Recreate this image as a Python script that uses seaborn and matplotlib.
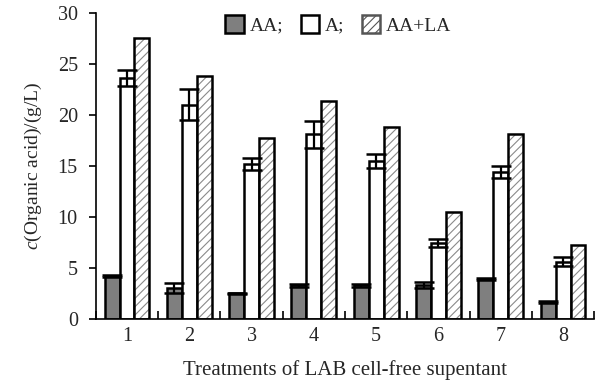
import matplotlib
matplotlib.use("Agg")
import matplotlib.pyplot as plt
import seaborn as sns
import pandas as pd
import numpy as np
from matplotlib.patches import Rectangle, Patch

categories = ["1", "2", "3", "4", "5", "6", "7", "8"]
series = ["AA;", "A;", "AA+LA"]
aa_vals = [4.2, 3.0, 2.5, 3.3, 3.3, 3.3, 3.9, 1.65]
aa_err = [0.1, 0.5, 0.05, 0.15, 0.15, 0.3, 0.1, 0.1]
a_vals = [23.6, 21.0, 15.2, 18.1, 15.5, 7.4, 14.4, 5.6]
a_err = [0.8, 1.5, 0.6, 1.3, 0.7, 0.4, 0.6, 0.45]
la_vals = [27.5, 23.8, 17.7, 21.4, 18.8, 10.5, 18.1, 7.2]

sns.set_theme(style="white")
plt.rcParams["font.family"] = ["Liberation Serif", "DejaVu Serif"]
plt.rcParams["mathtext.fontset"] = "custom"
plt.rcParams["mathtext.it"] = "Liberation Serif:italic"
plt.rcParams["mathtext.rm"] = "Liberation Serif"
plt.rcParams["hatch.linewidth"] = 0.8

df = pd.DataFrame({
    "cat": categories * 3,
    "series": [series[0]] * 8 + [series[1]] * 8 + [series[2]] * 8,
    "val": aa_vals + a_vals + la_vals,
})

fig = plt.figure(figsize=(5.99, 3.80), dpi=100)
ax = fig.add_axes([0.160, 0.161, 0.832, 0.805])

palette = {"AA;": "#7f7f7f", "A;": "#ffffff", "AA+LA": "#ffffff"}
sns.barplot(data=df, x="cat", y="val", hue="series", hue_order=series,
            palette=palette, errorbar=None, width=0.72, ax=ax,
            edgecolor="black", linewidth=1.8, saturation=1, legend=False)

containers = list(ax.containers)[:3]
errs = [aa_err, a_err, None]
for ci, cont in enumerate(containers):
    for bi, bar in enumerate(list(cont.patches)):
        x = bar.get_x(); w = bar.get_width(); h = bar.get_height()
        if ci == 2:
            bar.set_hatch("////")
            bar.set_edgecolor("#8a8a8a")
            bar.set_linewidth(0)
            ax.add_patch(Rectangle((x, 0), w, h, fill=False, edgecolor="black",
                                   linewidth=1.8, zorder=bar.get_zorder() + 0.1))
        if errs[ci] is not None:
            ax.errorbar(x + w / 2, h, yerr=errs[ci][bi], fmt="none", ecolor="black",
                        elinewidth=1.6, capsize=7.5, capthick=1.8, zorder=5)

ax.set_ylim(0, 30)
ax.set_xlim(-0.5, 7.5)
ax.set_yticks([0, 5, 10, 15, 20, 25, 30])
ax.set_xticks(range(8))
ax.set_xticklabels(categories)
ax.set_xticks(np.arange(-0.5, 8, 1), minor=True)
ax.tick_params(axis="x", which="major", length=0, labelsize=14.5, pad=6)
ax.tick_params(axis="x", which="minor", direction="in", length=6, width=1.2, color="black", bottom=True)
ax.tick_params(axis="y", which="major", direction="out", length=5, width=1.2,
               color="black", labelsize=14.5, pad=8, left=True)
for s in ["top", "right"]:
    ax.spines[s].set_visible(False)
for s in ["left", "bottom"]:
    ax.spines[s].set_color("black")
    ax.spines[s].set_linewidth(1.2)

ax.set_xlabel("Treatments of LAB cell-free supentant", fontsize=15, labelpad=10)
ax.set_ylabel(r"$c$(Organic acid)/(g/L)", fontsize=14, labelpad=10)

handles = [
    Patch(facecolor="#7f7f7f", edgecolor="black", linewidth=1.8),
    Patch(facecolor="white", edgecolor="black", linewidth=1.8),
    Patch(facecolor="white", edgecolor="#555555", linewidth=1.8, hatch="////"),
]
fig.legend(handles, series, loc="center", bbox_to_anchor=(0.565, 0.934), ncol=3,
           frameon=False, fontsize=14, handlelength=0.95, handleheight=1.0,
           handletextpad=0.3, columnspacing=0.9, borderpad=0.1)

fig.savefig("out.png", dpi=100)
